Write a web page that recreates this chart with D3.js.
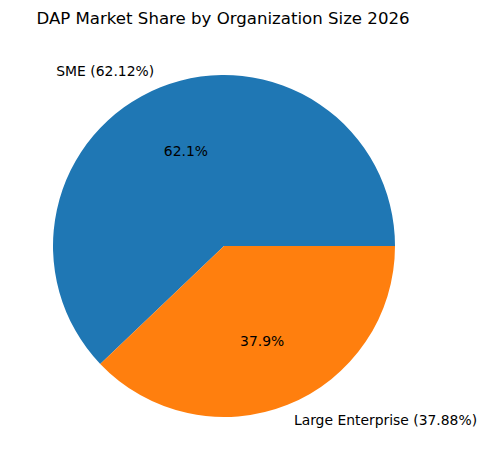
<!DOCTYPE html>
<html>
<head>
<meta charset="utf-8">
<script src="https://cdn.jsdelivr.net/npm/d3@7"></script>
<style>
html,body{margin:0;padding:0;background:#fff;}
svg{display:block;font-family:"DejaVu Sans",sans-serif;}
</style>
</head>
<body>
<svg id="chart" width="486" height="470"></svg>
<script>
const categories = ["SME", "Large Enterprise"];
const shares = [62.12, 37.88];
const colors = ["#1f77b4", "#ff7f0e"];
const titleText = "DAP Market Share by Organization Size 2026";

const svg = d3.select("#chart");
const cx = 224, cy = 246, r = 171;

svg.append("text")
  .attr("x", 223).attr("y", 24)
  .attr("text-anchor", "middle")
  .attr("font-size", "16.6px")
  .attr("fill", "#000")
  .text(titleText);

const data = categories.map((c, i) => ({cat: c, v: shares[i], color: colors[i]}));
const pie = d3.pie().value(d => d.v).sort(null)
  .startAngle(Math.PI / 2).endAngle(Math.PI / 2 - 2 * Math.PI);
const arcs = pie(data);
const arc = d3.arc().innerRadius(0).outerRadius(r);

const g = svg.append("g").attr("transform", `translate(${cx},${cy})`);
g.selectAll("path").data(arcs).enter().append("path")
  .attr("d", arc)
  .attr("fill", d => d.data.color);

const total = d3.sum(shares);
arcs.forEach(a => {
  const mid = (a.startAngle + a.endAngle) / 2;
  const sx = Math.sin(mid), sy = -Math.cos(mid);
  g.append("text")
    .attr("x", sx * r * 1.1).attr("y", sy * r * 1.1)
    .attr("dy", "0.35em")
    .attr("text-anchor", sx < 0 ? "end" : "start")
    .attr("font-size", "13.9px")
    .attr("fill", "#000")
    .text(`${a.data.cat} (${a.data.v.toFixed(2)}%)`);
  g.append("text")
    .attr("x", sx * r * 0.6).attr("y", sy * r * 0.6)
    .attr("dy", "0.35em")
    .attr("text-anchor", "middle")
    .attr("font-size", "13.9px")
    .attr("fill", "#000")
    .text(`${(a.data.v / total * 100).toFixed(1)}%`);
});
</script>
</body>
</html>
